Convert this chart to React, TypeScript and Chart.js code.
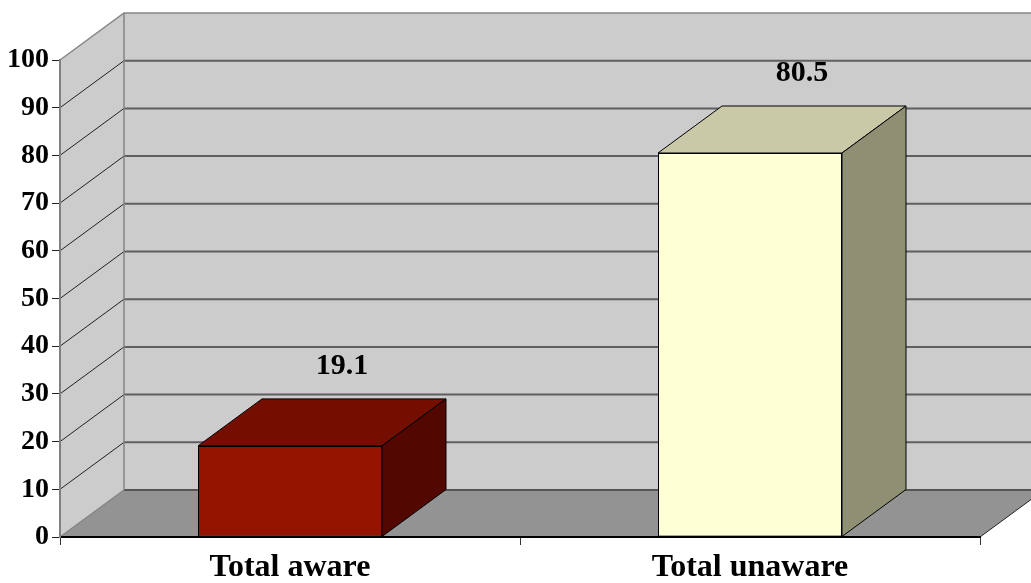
import React, { useEffect, useRef } from 'react';
import { Chart, registerables } from 'chart.js';

Chart.register(...registerables);

const categories = ['Total aware', 'Total unaware'];
const values = [19.1, 80.5];
const yTickValues = [0, 10, 20, 30, 40, 50, 60, 70, 80, 90, 100];
const frontColors = ['#941400', '#ffffd6'];
const topColors = ['#730e00', '#c9c9a7'];
const sideColors = ['#520700', '#8f8f74'];

const DX = 64;
const DY = -47;
const FONT = '"Liberation Serif", "Times New Roman", serif';

const depthPlugin = {
  id: 'depth3d',
  beforeDraw(chart: any) {
    const { ctx, chartArea: a, scales } = chart;
    const ys = scales.y;
    ctx.save();
    // back wall
    ctx.fillStyle = '#cccccc';
    ctx.beginPath();
    ctx.moveTo(a.left + DX, a.top + DY);
    ctx.lineTo(a.right + DX, a.top + DY);
    ctx.lineTo(a.right + DX, a.bottom + DY);
    ctx.lineTo(a.left + DX, a.bottom + DY);
    ctx.closePath();
    ctx.fill();
    // left wall
    ctx.beginPath();
    ctx.moveTo(a.left, a.bottom);
    ctx.lineTo(a.left, a.top);
    ctx.lineTo(a.left + DX, a.top + DY);
    ctx.lineTo(a.left + DX, a.bottom + DY);
    ctx.closePath();
    ctx.fill();
    // floor
    ctx.fillStyle = '#939393';
    ctx.beginPath();
    ctx.moveTo(a.left, a.bottom);
    ctx.lineTo(a.left + DX, a.bottom + DY);
    ctx.lineTo(a.right + DX, a.bottom + DY);
    ctx.lineTo(a.right, a.bottom);
    ctx.closePath();
    ctx.fill();
    // gridlines
    yTickValues.forEach((v) => {
      const py = ys.getPixelForValue(v);
      if (v > 0 && v < 100) {
        ctx.strokeStyle = '#5f5f5f';
        ctx.lineWidth = 2;
        ctx.beginPath();
        ctx.moveTo(a.left + DX, py + DY);
        ctx.lineTo(a.right + DX, py + DY);
        ctx.stroke();
        ctx.strokeStyle = '#222222';
        ctx.lineWidth = 1;
        ctx.beginPath();
        ctx.moveTo(a.left, py);
        ctx.lineTo(a.left + DX, py + DY);
        ctx.stroke();
      }
    });
    // floor back edge
    ctx.strokeStyle = '#555555';
    ctx.lineWidth = 2;
    ctx.beginPath();
    ctx.moveTo(a.left + DX, a.bottom + DY);
    ctx.lineTo(a.right + DX, a.bottom + DY);
    ctx.stroke();
    // outer edges
    ctx.strokeStyle = '#858585';
    ctx.lineWidth = 1.5;
    ctx.beginPath();
    ctx.moveTo(a.left, a.top);
    ctx.lineTo(a.left + DX, a.top + DY);
    ctx.lineTo(a.right + DX, a.top + DY);
    ctx.stroke();
    ctx.beginPath();
    ctx.moveTo(a.left + DX, a.top + DY);
    ctx.lineTo(a.left + DX, a.bottom + DY);
    ctx.stroke();
    ctx.beginPath();
    ctx.moveTo(a.left, a.bottom);
    ctx.lineTo(a.left + DX, a.bottom + DY);
    ctx.stroke();
    ctx.strokeStyle = '#222222';
    ctx.lineWidth = 1;
    ctx.beginPath();
    ctx.moveTo(a.right, a.bottom);
    ctx.lineTo(a.right + DX, a.bottom + DY);
    ctx.stroke();
    ctx.restore();
  },
  afterDatasetsDraw(chart: any) {
    const { ctx } = chart;
    const meta = chart.getDatasetMeta(0);
    ctx.save();
    ctx.strokeStyle = '#000000';
    ctx.lineWidth = 1;
    meta.data.forEach((bar: any, i: number) => {
      const { x, y, base, width } = bar.getProps(['x', 'y', 'base', 'width'], true);
      const l = x - width / 2;
      const r = x + width / 2;
      // top face
      ctx.fillStyle = topColors[i];
      ctx.beginPath();
      ctx.moveTo(l, y);
      ctx.lineTo(l + DX, y + DY);
      ctx.lineTo(r + DX, y + DY);
      ctx.lineTo(r, y);
      ctx.closePath();
      ctx.fill();
      ctx.stroke();
      // side face
      ctx.fillStyle = sideColors[i];
      ctx.beginPath();
      ctx.moveTo(r, y);
      ctx.lineTo(r + DX, y + DY);
      ctx.lineTo(r + DX, base + DY);
      ctx.lineTo(r, base);
      ctx.closePath();
      ctx.fill();
      ctx.stroke();
      // value label
      ctx.fillStyle = '#000000';
      ctx.font = `bold 30px ${FONT}`;
      ctx.textAlign = 'center';
      ctx.textBaseline = 'alphabetic';
      ctx.fillText(values[i].toFixed(1), x + 52, y + DY - 25);
    });
    ctx.restore();
  },
};

export default function App() {
  const ref = useRef<HTMLCanvasElement | null>(null);
  useEffect(() => {
    if (!ref.current) return;
    const chart = new Chart(ref.current, {
      type: 'bar',
      data: {
        labels: categories,
        datasets: [
          {
            data: values,
            backgroundColor: frontColors,
            borderColor: '#000000',
            borderWidth: 1,
            borderSkipped: false,
            barPercentage: 0.4,
            categoryPercentage: 1,
          },
        ],
      },
      options: {
        responsive: false,
        animation: false,
        layout: { padding: { top: 60, right: 51, left: 0, bottom: 0 } },
        plugins: { legend: { display: false }, tooltip: { enabled: false } },
        scales: {
          x: {
            offset: true,
            grid: {
              offset: true,
              drawOnChartArea: false,
              drawTicks: true,
              tickLength: 8,
              color: '#333333',
            },
            border: { display: true, color: '#000000', width: 2 },
            ticks: {
              color: '#000000',
              padding: 5,
              font: { family: FONT, size: 32, weight: 'bold', lineHeight: 1.1 },
              maxRotation: 0,
            },
            afterFit: (s: any) => {
              s.height = 46;
            },
          },
          y: {
            min: 0,
            max: 100,
            grid: {
              drawOnChartArea: false,
              drawTicks: true,
              tickLength: 8,
              color: '#222222',
            },
            border: { display: true, color: '#808080', width: 2 },
            ticks: {
              stepSize: 10,
              color: '#000000',
              padding: 3,
              font: { family: FONT, size: 28, weight: 'bold' },
            },
            afterFit: (s: any) => {
              s.width = 60;
            },
          },
        },
      },
      plugins: [depthPlugin],
    });
    return () => chart.destroy();
  }, []);
  return (
    <div style={{ position: 'absolute', left: 0, top: 0, width: 1031, height: 583, background: '#ffffff' }}>
      <canvas ref={ref} width={1031} height={583} style={{ display: 'block' }} />
    </div>
  );
}
